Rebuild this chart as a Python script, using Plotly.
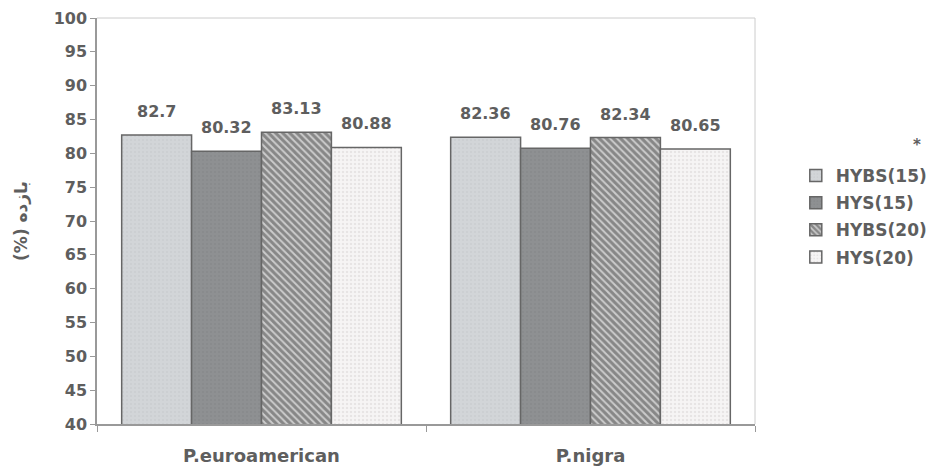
import plotly.graph_objects as go

# Species groups on the x axis
categories = ["P.euroamerican", "P.nigra"]

# Yield (%) per treatment
hybs15 = [82.7, 82.36]
hys15 = [80.32, 80.76]
hybs20 = [83.13, 82.34]
hys20 = [80.88, 80.65]

series_names = ["HYBS(15)", "HYS(15)", "HYBS(20)", "HYS(20)"]
series_values = [hybs15, hys15, hybs20, hys20]

y_ticks = list(range(40, 101, 5))

styles = [
    dict(bg="#d2d5d8", fg="#c2c5c8", shape=".", size=4, solidity=0.2),
    dict(bg="#8e9092", fg="#808284", shape=".", size=4, solidity=0.2),
    dict(bg="#cbcbcb", fg="#444444", shape="\\", size=5, solidity=0.6),
    dict(bg="#f6f4f4", fg="#d8d4d4", shape=".", size=4, solidity=0.3),
]

font_family = "DejaVu Sans, Verdana, sans-serif"
text_color = "#5e5e5e"
bold = dict(family=font_family, color=text_color, weight="bold")

fig = go.Figure()
for name, vals, st in zip(series_names, series_values, styles):
    fig.add_trace(go.Bar(
        name=name,
        legendgroup=name,
        x=categories,
        y=vals,
        marker=dict(
            color=st["bg"],
            line=dict(color="#666666", width=1.5),
            pattern=dict(shape=st["shape"], fgcolor=st["fg"], bgcolor=st["bg"],
                         size=st["size"], solidity=st["solidity"],
                         fillmode="overlay"),
        ),
    ))

# value labels above each bar (bars are 1/4 of the group width)
n = len(series_names)
bar_px = 70
annotations = []
for i, (name, vals) in enumerate(zip(series_names, series_values)):
    offset = (i - (n - 1) / 2) * bar_px
    for cat, v in zip(categories, vals):
        annotations.append(dict(
            x=cat, y=v, xref="x", yref="y", text=str(v),
            showarrow=False, xshift=offset, yanchor="bottom", yshift=12,
            font=dict(**bold, size=16),
        ))

annotations.append(dict(
    text="*", x=1.255, y=0.715, xref="paper", yref="paper",
    showarrow=False, font=dict(**bold, size=15),
))

fig.update_layout(
    width=935,
    height=472,
    margin=dict(l=97, r=180, t=18, b=48, autoexpand=False),
    paper_bgcolor="white",
    plot_bgcolor="white",
    barmode="group",
    bargap=0.15,
    bargroupgap=0,
    showlegend=True,
    legend=dict(
        x=1.062, y=0.655, xanchor="left", yanchor="top",
        font=dict(**bold, size=17),
        tracegroupgap=2,
        itemwidth=30,
    ),
    annotations=annotations,
)

fig.update_yaxes(
    range=[40, 100],
    tickvals=y_ticks,
    ticktext=[str(t) for t in y_ticks],
    tickfont=dict(**bold, size=16),
    ticks="outside",
    ticklen=5,
    tickcolor="#999999",
    showline=True,
    linecolor="#999999",
    linewidth=1.5,
    showgrid=False,
    zeroline=False,
    automargin=False,
    title=dict(text="(%) بازده",
               font=dict(family="DejaVu Sans, Noto Sans", size=17, color=text_color, weight="bold"),
               standoff=22),
)

fig.update_xaxes(
    tickfont=dict(**bold, size=18),
    ticks="outside",
    tickson="boundaries",
    ticklen=6,
    tickcolor="#999999",
    ticklabelstandoff=15,
    showline=True,
    linecolor="#999999",
    linewidth=1.5,
    showgrid=False,
    automargin=False,
)

# light frame on the top and right of the plot area
fig.add_shape(type="line", xref="paper", yref="paper", x0=0, x1=1, y0=1, y1=1,
              line=dict(color="#cccccc", width=1))
fig.add_shape(type="line", xref="paper", yref="paper", x0=1, x1=1, y0=0, y1=1,
              line=dict(color="#cccccc", width=1))

fig.write_html("out.html")
